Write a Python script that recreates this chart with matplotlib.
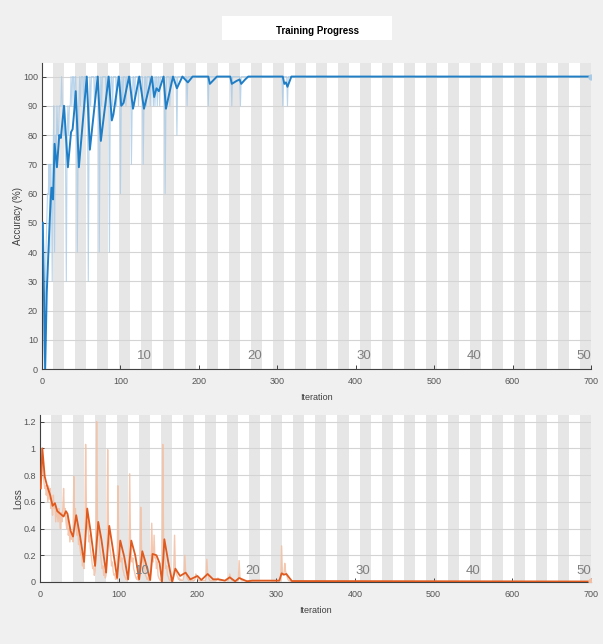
import matplotlib.pyplot as plt
from matplotlib.patches import Rectangle
from matplotlib.transforms import blended_transform_factory

plt.rcParams["font.family"] = ["Liberation Sans Narrow", "Liberation Sans", "DejaVu Sans"]

# data (14 iterations per epoch, 50 epochs)
iters_per_epoch = 14
n_epochs = 50
epoch_labels = [10, 20, 30, 40, 50]

# raw minibatch accuracy, one row per epoch
raw_acc = (
    [50, 10, 0, 20, 40, 50, 60, 60, 70, 40, 70, 60, 30, 70]
    + [90, 40, 80, 70, 90, 80, 80, 90, 90, 90, 100, 90, 90, 80]
    + [90, 70, 30, 80, 90, 80, 90, 90, 100, 90, 100, 100, 90, 100]
    + [100, 90, 40, 70, 90, 100, 90, 100, 100, 100, 90, 100, 100, 100]
    + [100, 90, 30, 80, 100, 90, 100, 100, 100, 100, 90, 100, 100, 100]
    + [100, 100, 40, 80, 100, 90, 100, 100, 100, 100, 100, 90, 100, 100]
    + [100, 40, 90, 100, 100, 90, 100, 100, 100, 100, 90, 100, 100, 100]
    + [100, 60, 90, 100, 90, 100, 100, 100, 90, 100, 100, 100, 100, 100]
    + [100, 70, 90, 100, 100, 90, 100, 100, 100, 100, 90, 100, 100, 100]
    + [100, 100, 70, 90, 100, 100, 90, 100, 100, 100, 100, 90, 100, 100]
    + [100, 90, 100, 90, 100, 100, 90, 100, 100, 90, 100, 100, 100, 100]
    + [100, 100, 60, 90, 100, 100, 100, 100, 90, 100, 100, 100, 100, 100]
    + [100, 100, 100, 80, 100, 100, 100, 100, 100, 100, 100, 100, 100, 100]
    + [100, 100, 90, 100, 100, 100, 100, 100, 100, 100, 100, 100, 100, 100]
    + [100] * 14
    + [100, 90, 100, 100, 100, 100, 100, 100, 100, 100, 100, 100, 100, 100]
    + [100] * 14
    + [100, 100, 100, 90, 100, 100, 100, 100, 100, 100, 100, 100, 100, 100]
    + [90, 100, 100, 100, 100, 100, 100, 100, 100, 100, 100, 100, 100, 100]
    + [100] * 14
    + [100] * 14
    + [100, 100, 100, 100, 100, 100, 100, 100, 100, 100, 100, 100, 90, 100]
    + [100, 100, 100, 100, 90, 100, 100, 100, 100, 100, 100, 100, 100, 100]
    + [100] * (14 * 27)
)

# smoothed accuracy (vertices)
acc_sm_it = [1, 4, 6, 10, 12, 14, 16, 19, 22, 24, 28, 33, 37, 39, 41, 43, 47, 57, 61, 71,
             75, 85, 89, 91, 98, 101, 104, 111, 116, 124, 130, 140, 143, 146, 149, 155, 158, 167, 172, 179,
             186, 192, 212, 214, 223, 240, 242, 248, 252, 254, 259, 263, 307, 309, 311, 313, 318, 700]
acc_sm = [50, 0, 26, 52, 62, 58, 77, 69, 80, 79, 90, 69, 81, 82, 88, 95, 69, 100, 75, 100,
          78, 100, 85, 87, 100, 90, 91, 100, 89, 100, 89, 100, 93, 96, 95, 100, 89, 100, 96, 100,
          98, 100, 100, 97.5, 100, 100, 97.5, 98.5, 99, 97.5, 99, 100, 100, 97.5, 98, 96.5, 100, 100]

# raw minibatch loss, one row per epoch
raw_loss = (
    [0.70, 1.00, 0.95, 0.80, 0.75, 0.70, 0.72, 0.65, 0.70, 0.60, 0.72, 0.62, 0.70, 0.55]
    + [0.60, 0.50, 0.65, 0.55, 0.58, 0.45, 0.55, 0.50, 0.45, 0.55, 0.48, 0.40, 0.52, 0.45]
    + [0.55, 0.70, 0.50, 0.55, 0.45, 0.40, 0.50, 0.35, 0.40, 0.30, 0.38, 0.32, 0.35, 0.30]
    + [0.79, 0.45, 0.55, 0.40, 0.35, 0.42, 0.28, 0.32, 0.25, 0.20, 0.22, 0.12, 0.18, 0.10]
    + [0.30, 1.03, 0.55, 0.40, 0.45, 0.30, 0.35, 0.25, 0.20, 0.15, 0.10, 0.12, 0.05, 0.08]
    + [0.20, 1.20, 0.45, 0.35, 0.38, 0.25, 0.20, 0.15, 0.10, 0.12, 0.05, 0.08, 0.03, 0.05]
    + [0.20, 0.99, 0.40, 0.30, 0.25, 0.20, 0.12, 0.15, 0.08, 0.05, 0.06, 0.02, 0.04, 0.02]
    + [0.72, 0.30, 0.25, 0.20, 0.15, 0.18, 0.10, 0.08, 0.05, 0.04, 0.02, 0.03, 0.01, 0.02]
    + [0.20, 0.81, 0.30, 0.20, 0.15, 0.18, 0.10, 0.08, 0.05, 0.03, 0.02, 0.04, 0.01, 0.02]
    + [0.10, 0.56, 0.25, 0.15, 0.20, 0.10, 0.12, 0.05, 0.04, 0.02, 0.03, 0.01, 0.02, 0.01]
    + [0.15, 0.44, 0.20, 0.15, 0.35, 0.18, 0.20, 0.10, 0.15, 0.05, 0.03, 0.02, 0.01, 0.01]
    + [0.05, 1.03, 0.30, 0.20, 0.15, 0.10, 0.12, 0.05, 0.04, 0.02, 0.01, 0.02, 0.01, 0.00]
    + [0.05, 0.10, 0.35, 0.10, 0.08, 0.05, 0.04, 0.02, 0.03, 0.01, 0.02, 0.01, 0.01, 0.02]
    + [0.05, 0.20, 0.08, 0.05, 0.03, 0.02, 0.01, 0.02, 0.01, 0.01, 0.02, 0.01, 0.01, 0.01]
    + [0.02, 0.06, 0.04, 0.03, 0.02, 0.01, 0.01, 0.01, 0.01, 0.01, 0.01, 0.01, 0.01, 0.01]
    + [0.03, 0.17, 0.06, 0.04, 0.02, 0.01, 0.01, 0.01, 0.01, 0.01, 0.01, 0.01, 0.01, 0.01]
    + [0.02, 0.03, 0.02, 0.01, 0.01, 0.01, 0.01, 0.01, 0.01, 0.01, 0.01, 0.01, 0.01, 0.01]
    + [0.01, 0.02, 0.06, 0.04, 0.02, 0.01, 0.01, 0.01, 0.01, 0.01, 0.01, 0.01, 0.01, 0.01]
    + [0.16, 0.04, 0.02, 0.01, 0.01, 0.01, 0.01, 0.01, 0.01, 0.01, 0.01, 0.01, 0.01, 0.01]
    + [0.01] * 14
    + [0.01] * 14
    + [0.01, 0.01, 0.01, 0.01, 0.01, 0.01, 0.01, 0.01, 0.01, 0.01, 0.01, 0.01, 0.27, 0.06]
    + [0.05, 0.06, 0.14, 0.08, 0.06, 0.04, 0.02, 0.01, 0.01, 0.005, 0.005, 0.005, 0.005, 0.005]
    + [0.005] * (14 * 27)
)

# smoothed loss (vertices)
loss_sm_it = [1, 3, 6, 9, 13, 16, 19, 22, 28, 30, 33, 35, 39, 42, 46, 51, 56, 60, 64, 70,
              74, 78, 84, 88, 92, 98, 102, 107, 112, 116, 121, 126, 130, 134, 140, 143, 148, 152, 155, 158,
              163, 168, 172, 178, 185, 191, 200, 205, 213, 220, 227, 235, 241, 248, 253, 263, 270, 290, 304, 307,
              310, 313, 320, 700]
loss_sm = [0.70, 1.00, 0.79, 0.72, 0.65, 0.57, 0.59, 0.53, 0.50, 0.49, 0.53, 0.51, 0.38, 0.34, 0.50, 0.34, 0.15, 0.55, 0.39, 0.12,
           0.45, 0.32, 0.07, 0.42, 0.27, 0.03, 0.31, 0.19, 0.02, 0.31, 0.20, 0.02, 0.23, 0.15, 0.015, 0.21, 0.20, 0.14, 0.0, 0.32,
           0.15, 0.0, 0.10, 0.045, 0.07, 0.02, 0.045, 0.015, 0.06, 0.02, 0.02, 0.01, 0.035, 0.005, 0.03, 0.005, 0.01, 0.01, 0.01, 0.065,
           0.055, 0.06, 0.007, 0.003]

iterations = list(range(1, len(raw_acc) + 1))

# figure
fig = plt.figure(figsize=(6.03, 6.44), dpi=100, facecolor="#f0f0f0")
ax1 = fig.add_axes([0.0697, 0.427, 0.9103, 0.475])
ax2 = fig.add_axes([0.0663, 0.0963, 0.9137, 0.2593])

# title box
fig.patches.append(Rectangle((222 / 603, 1 - 40 / 644), 170 / 603, 24 / 644,
                             transform=fig.transFigure, facecolor="white", edgecolor="none"))
fig.text(317 / 603, 1 - 31 / 644, "Training Progress", ha="center", va="center",
         fontsize=7, fontweight="bold", color="black")

light_blue = "#a9cbe6"
dark_blue = "#1f7ec6"
light_orange = "#f3bfa2"
dark_orange = "#de5a1f"


def style_axes(ax, ymax, yticks, ylabels, ylabel, label_y):
    ax.set_facecolor("white")
    for e in range(n_epochs):
        if e % 2 == 1:
            ax.axvspan(e * iters_per_epoch, (e + 1) * iters_per_epoch, color="#e6e6e6", lw=0, zorder=0)
    ax.set_xlim(0, 700)
    ax.set_ylim(0, ymax)
    ax.set_yticks(yticks)
    ax.set_yticklabels(ylabels)
    ax.set_xticks(range(0, 701, 100))
    ax.grid(axis="y", color="#d4d4d4", lw=0.8, zorder=1)
    ax.set_axisbelow(True)
    for s in ["top", "right"]:
        ax.spines[s].set_visible(False)
    for s in ["left", "bottom"]:
        ax.spines[s].set_color("#404040")
        ax.spines[s].set_linewidth(0.8)
    ax.tick_params(direction="in", length=3, width=0.7, colors="#404040",
                   labelsize=6.5, labelcolor="#555555")
    ax.tick_params(axis="x", pad=6)
    ax.tick_params(axis="y", pad=3)
    ax.set_xlabel("Iteration", fontsize=6.5, color="#404040", labelpad=5)
    ax.set_ylabel(ylabel, fontsize=7, color="#404040", labelpad=0, family="Liberation Sans")
    trans = blended_transform_factory(ax.transData, ax.transAxes)
    for ep in epoch_labels:
        ax.text(ep * iters_per_epoch, label_y, str(ep), ha="right", va="bottom",
                fontsize=9.5, color="#7f7f7f", transform=trans, zorder=5)


style_axes(ax1, 104.6, range(0, 101, 10), [str(v) for v in range(0, 101, 10)],
           "Accuracy (%)", 0.022)
style_axes(ax2, 1.25, [0, 0.2, 0.4, 0.6, 0.8, 1.0, 1.2],
           ["0", "0.2", "0.4", "0.6", "0.8", "1", "1.2"], "Loss", 0.03)

ax1.plot(iterations, raw_acc, color=light_blue, lw=0.8, alpha=0.8, zorder=2)
ax1.plot(acc_sm_it, acc_sm, color=dark_blue, lw=1.4, zorder=3)
ax1.plot([iterations[-1]], [raw_acc[-1]], "o", ms=3.5, color=light_blue, zorder=4)

ax2.plot(iterations, raw_loss, color=light_orange, lw=1.0, alpha=0.85, zorder=2)
ax2.plot(loss_sm_it, loss_sm, color=dark_orange, lw=1.3, zorder=3)
ax2.plot([iterations[-1]], [raw_loss[-1]], "o", ms=3.5, color=light_orange, zorder=4)

fig.savefig("out.png", dpi=100, facecolor=fig.get_facecolor())
